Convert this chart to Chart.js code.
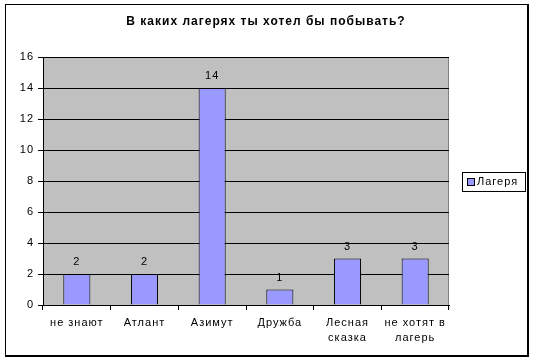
<!DOCTYPE html>
<html>
<head>
<meta charset="utf-8">
<script src="https://cdn.jsdelivr.net/npm/chart.js@4/dist/chart.umd.min.js"></script>
<style>
  html, body { margin: 0; padding: 0; background: #fff; }
  canvas { display: block; }
</style>
</head>
<body>
<canvas id="camps" width="536" height="361"></canvas>
<script>
// values
const campNames = ['не знают', 'Атлант', 'Азимут', 'Дружба', ['Лесная', 'сказка'], ['не хотят в', 'лагерь']];
const campVotes = [2, 2, 14, 1, 3, 3];
const seriesName = 'Лагеря';
const chartTitle = 'В каких лагерях ты хотел бы побывать?';
const yTicks = [0, 2, 4, 6, 8, 10, 12, 14, 16];

const FONT = '"Liberation Sans", Arial, sans-serif';
const BAR = '#9999FF';
const SPACING = '1px';

// frame, gray plot area, title, value labels and the boxed legend, Excel style
const excelLook = {
  id: 'excelLook',
  beforeUpdate(chart) { chart.ctx.letterSpacing = SPACING; },
  beforeDraw(chart) {
    const { ctx, chartArea: a } = chart;
    ctx.letterSpacing = SPACING;
    ctx.save();
    ctx.fillStyle = '#fff';
    ctx.fillRect(0, 0, chart.width, chart.height);
    // frame, a bit heavier on right and bottom
    ctx.fillStyle = '#000';
    ctx.fillRect(5, 4, 524, 353);
    ctx.fillStyle = '#fff';
    ctx.fillRect(6, 5, 521, 350);
    // plot area
    ctx.fillStyle = '#C0C0C0';
    ctx.fillRect(a.left, a.top, a.right - a.left, a.bottom - a.top);
    ctx.strokeStyle = '#808080';
    ctx.lineWidth = 1;
    ctx.strokeRect(a.left + 0.5, a.top + 0.5, a.right - a.left - 1, a.bottom - a.top);
    ctx.restore();
  },
  afterDraw(chart) {
    const { ctx } = chart;
    ctx.save();
    ctx.letterSpacing = SPACING;
    ctx.fillStyle = '#000';
    ctx.textAlign = 'center';
    ctx.textBaseline = 'middle';
    ctx.font = 'bold 12px ' + FONT;
    ctx.fillText(chartTitle, 266, 22);

    ctx.font = '11px ' + FONT;
    const meta = chart.getDatasetMeta(0);
    meta.data.forEach((bar, i) => {
      ctx.fillText(String(campVotes[i]), bar.x, bar.y - 12);
    });

    // legend
    ctx.fillStyle = '#fff';
    ctx.fillRect(462, 172, 63, 19);
    ctx.strokeStyle = '#000';
    ctx.strokeRect(462.5, 172.5, 63, 19);
    ctx.fillStyle = BAR;
    ctx.fillRect(467, 178, 7, 7);
    ctx.strokeRect(467.5, 178.5, 7, 7);
    ctx.fillStyle = '#000';
    ctx.textAlign = 'left';
    ctx.fillText(seriesName, 477, 182);
    ctx.restore();
  }
};

new Chart(document.getElementById('camps'), {
  type: 'bar',
  data: {
    labels: campNames,
    datasets: [{
      label: seriesName,
      data: campVotes,
      backgroundColor: BAR,
      borderColor: '#000',
      borderWidth: 1,
      borderSkipped: 'bottom',
      barPercentage: 0.4,
      categoryPercentage: 1
    }]
  },
  options: {
    responsive: false,
    animation: false,
    devicePixelRatio: 1,
    layout: { padding: { left: 5, right: 87, top: 57, bottom: 14 } },
    plugins: { legend: { display: false }, title: { display: false }, tooltip: { enabled: false } },
    scales: {
      x: {
        offset: true,
        grid: { offset: true, drawOnChartArea: false, color: '#000', tickLength: 5 },
        border: { color: '#000' },
        ticks: { color: '#000', font: { family: FONT, size: 11, lineHeight: 1.35 }, maxRotation: 0, autoSkip: false, padding: 6 },
        afterFit(s) { s.height = 42; }
      },
      y: {
        min: 0,
        max: 16,
        afterBuildTicks(s) { s.ticks = yTicks.map(v => ({ value: v })); },
        grid: { color: '#000', tickLength: 5 },
        border: { color: '#000' },
        ticks: { color: '#000', font: { family: FONT, size: 11 }, padding: 4 },
        afterFit(s) { s.width = 38; }
      }
    }
  },
  plugins: [excelLook]
});
</script>
</body>
</html>
